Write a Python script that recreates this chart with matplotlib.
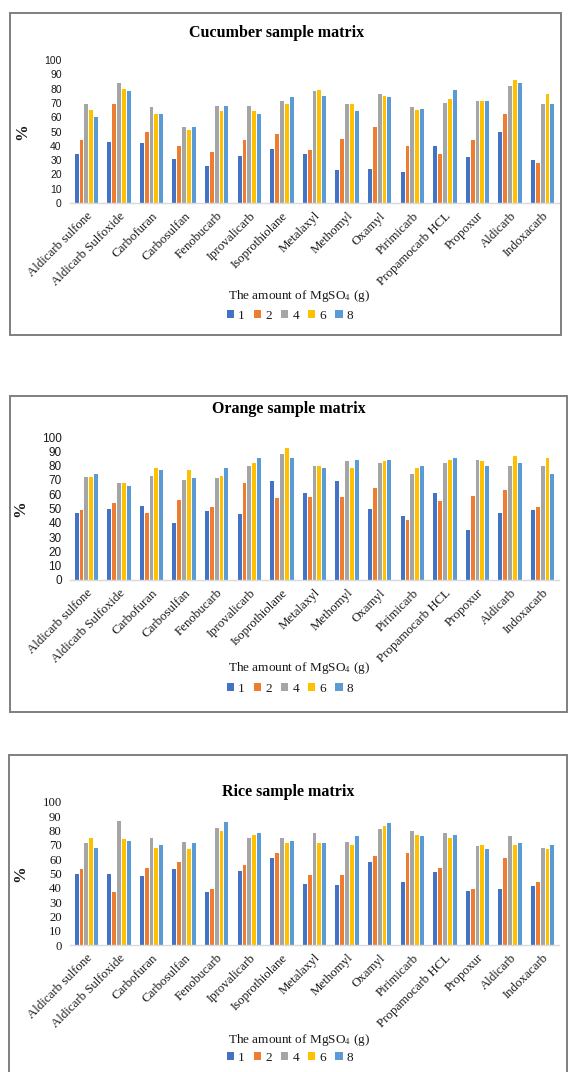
import matplotlib
matplotlib.use("Agg")
import matplotlib.pyplot as plt
from matplotlib.patches import Rectangle
import numpy as np

plt.rcParams["mathtext.fontset"] = "stix"

pesticides = ["Aldicarb sulfone", "Aldicarb Sulfoxide", "Carbofuran", "Carbosulfan",
              "Fenobucarb", "Iprovalicarb", "Isoprothiolane", "Metalaxyl", "Methomyl",
              "Oxamyl", "Pirimicarb", "Propamocarb HCL", "Propoxur", "Aldicarb", "Indoxacarb"]
mgso4_amounts = ["1", "2", "4", "6", "8"]

# Recovery (%) per MgSO4 amount: rows = pesticides, columns = 1, 2, 4, 6, 8 g
cucumber = [
    [34, 44, 69, 65, 60],
    [43, 69, 84, 80, 78],
    [42, 50, 67, 62, 62],
    [31, 40, 53, 51, 53],
    [26, 36, 68, 64, 68],
    [33, 44, 68, 64, 62],
    [38, 48, 71, 69, 74],
    [34, 37, 78, 79, 75],
    [23, 45, 69, 69, 64],
    [24, 53, 76, 75, 74],
    [22, 40, 67, 65, 66],
    [40, 34, 70, 73, 79],
    [32, 44, 71, 71, 71],
    [50, 62, 82, 86, 84],
    [30, 28, 69, 76, 69],
]
orange = [
    [47, 49, 72, 72, 74],
    [50, 54, 68, 68, 66],
    [52, 47, 73, 78, 77],
    [40, 56, 70, 77, 71],
    [48, 51, 71, 73, 78],
    [46, 68, 80, 82, 85],
    [69, 57, 88, 92, 85],
    [61, 58, 80, 80, 78],
    [69, 58, 83, 78, 84],
    [50, 64, 82, 83, 84],
    [45, 42, 74, 78, 80],
    [61, 55, 82, 84, 85],
    [35, 59, 84, 83, 80],
    [47, 63, 80, 87, 82],
    [49, 51, 80, 85, 74],
]
rice = [
    [50, 53, 71, 75, 68],
    [50, 37, 87, 74, 73],
    [48, 54, 75, 68, 70],
    [53, 58, 72, 67, 71],
    [37, 39, 82, 80, 86],
    [52, 56, 75, 77, 78],
    [61, 64, 75, 71, 73],
    [43, 49, 78, 71, 71],
    [42, 49, 72, 70, 76],
    [58, 62, 81, 83, 85],
    [44, 64, 80, 77, 76],
    [51, 54, 78, 75, 77],
    [38, 39, 69, 70, 67],
    [39, 61, 76, 70, 71],
    [41, 44, 68, 67, 70],
]

panels = [
    ("Cucumber sample matrix", cucumber),
    ("Orange sample matrix", orange),
    ("Rice sample matrix", rice),
]

colors = ["#4472C4", "#ED7D31", "#A5A5A5", "#FFC000", "#5B9BD5"]

W, H = 573, 1072
fig = plt.figure(figsize=(W / 100, H / 100), dpi=100)

def fx(px):
    return px / W

def fy(py):
    return 1 - py / H

# layout per panel in pixels: box (left, top, right, bottom), axes (top, bottom), title, xlabel, legend
layouts = [
    dict(box=(10, 13, 561, 335), ax_top=60, ax_bot=203, title=(277, 33), xlabel=296, legend=316,
         tick_family="Liberation Sans", tick_size=7.5),
    dict(box=(10, 396, 567, 712), ax_top=437, ax_bot=580, title=(289, 409), xlabel=668, legend=689,
         tick_family="Liberation Sans", tick_size=8.5),
    dict(box=(9, 755, 567, 1090), ax_top=802, ax_bot=945, title=(288, 792), xlabel=1040, legend=1058,
         tick_family="Liberation Serif", tick_size=9.2),
]

serif = "Liberation Serif"
ink = "#1A1A1A"
x = np.arange(len(pesticides))
step = 0.148
bw = 0.12

for (title, data), lay in zip(panels, layouts):
    l, t, r, b = lay["box"]
    fig.patches.append(Rectangle((fx(l), fy(b)), fx(r - l), fy(t) - fy(b),
                                 transform=fig.transFigure, fill=False,
                                 edgecolor="#7F7F7F", linewidth=1.4, zorder=0))

    ax = fig.add_axes([fx(70), fy(lay["ax_bot"]), fx(489), fy(lay["ax_top"]) - fy(lay["ax_bot"])])
    vals = np.array(data)
    for j, amt in enumerate(mgso4_amounts):
        ax.bar(x + (j - 2) * step, vals[:, j], width=bw, color=colors[j], label=amt,
               linewidth=0)
    ax.set_xlim(-0.5, len(pesticides) - 0.5)
    ax.set_ylim(0, 100)
    ax.set_yticks(range(0, 101, 10))
    for s in ["top", "right", "left"]:
        ax.spines[s].set_visible(False)
    ax.spines["bottom"].set_color("#D9D9D9")
    ax.spines["bottom"].set_linewidth(1.0)
    ax.tick_params(axis="both", length=0)
    ax.tick_params(axis="y", pad=6)
    for lab in ax.get_yticklabels():
        lab.set_fontfamily(lay["tick_family"])
        lab.set_fontsize(lay["tick_size"])
        lab.set_color(ink)
    ax.set_xticks(x)
    ax.set_xticklabels(pesticides, rotation=45, ha="right", va="top",
                       rotation_mode="anchor", fontfamily=serif, fontsize=9.3,
                       color=ink)
    ax.tick_params(axis="x", pad=5)
    ax.set_ylabel("%", fontfamily=serif, fontsize=12, fontweight="bold", color=ink,
                  labelpad=10)

    tx, ty = lay["title"]
    fig.text(fx(tx), fy(ty), title, ha="center", va="center",
             fontfamily=serif, fontsize=11.5, fontweight="bold", color="#000000")
    fig.text(fx(299), fy(lay["xlabel"]), "The amount of MgSO$_4$ (g)", ha="center",
             va="center", fontfamily=serif, fontsize=9.5, color=ink)
    handles, labels = ax.get_legend_handles_labels()
    fig.legend(handles, labels, loc="center", bbox_to_anchor=(fx(290), fy(lay["legend"])),
               ncol=5, frameon=False, handlelength=0.55, handleheight=0.55,
               handletextpad=0.3, columnspacing=0.7, borderpad=0,
               prop={"family": serif, "size": 9.5}, labelcolor=ink)

fig.savefig("out.png", dpi=100, facecolor="white")
